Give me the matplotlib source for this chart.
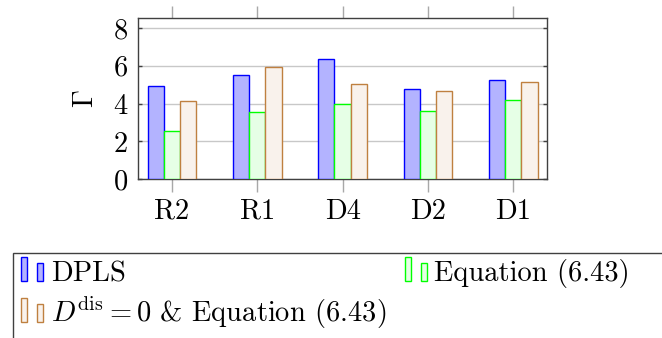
import numpy as np
import matplotlib
matplotlib.use('Agg')
from matplotlib import pyplot as plt
from matplotlib.patches import Rectangle
from matplotlib.legend_handler import HandlerBase

plt.rcParams['font.family'] = ['cmr10']
plt.rcParams['mathtext.fontset'] = 'cm'
plt.rcParams['axes.formatter.use_mathtext'] = True

categories = ['R2', 'R1', 'D4', 'D2', 'D1']
dpls = [4.93, 5.51, 6.37, 4.77, 5.25]
equation = [2.55, 3.55, 3.97, 3.60, 4.17]
ddis_zero = [4.13, 5.92, 5.04, 4.68, 5.14]
labels = ['DPLS', 'Equation (6.43)', r'$D^{\mathrm{dis}} = 0$ & Equation (6.43)']

series = [dpls, equation, ddis_zero]
faces = ['#b3b3ff', '#e6ffe6', '#f9f2ec']
edges = ['#0000ff', '#00ff00', '#bf8040']


# pgfplots style legend: two small bars per entry
class TwoBars(HandlerBase):
    def create_artists(self, legend, orig_handle, xdescent, ydescent,
                       width, height, fontsize, trans):
        fc = orig_handle.get_facecolor()
        ec = orig_handle.get_edgecolor()
        x0, y0 = -xdescent, -ydescent
        r1 = Rectangle((x0, y0), width * 0.26, height * 1.2, fc=fc, ec=ec, lw=1, transform=trans)
        r2 = Rectangle((x0 + width * 0.71, y0), width * 0.29, height * 0.9, fc=fc, ec=ec, lw=1, transform=trans)
        return [r1, r2]


fig = plt.figure(figsize=(6.62, 3.38), dpi=100)
ax = fig.add_axes([0.208, 0.470, 0.619, 0.477])

x = np.arange(len(categories))
w = 0.19
handles = []
for i in range(3):
    b = ax.bar(x + (i - 1) * w, series[i], w, color=faces[i], edgecolor=edges[i], linewidth=1, zorder=3)
    handles.append(b[0])

ax.set_xlim(-0.4, 4.4)
ax.set_ylim(0, 8.53)
ax.set_xticks(x)
ax.set_xticklabels(categories)
ax.set_yticks([0, 2, 4, 6, 8])
ax.yaxis.grid(True, color='#c8c8c8', linewidth=1, zorder=0)
ax.set_ylabel(r'$\Gamma$', fontsize=20.5, labelpad=10)

ax.tick_params(axis='x', direction='out', top=True, length=9, width=1, color='#a8a8a8', labelsize=20.5, pad=5)
ax.tick_params(axis='y', direction='in', right=True, length=3, width=1, color='#404040', labelsize=20.5, pad=7)
for s in ax.spines.values():
    s.set_color('#404040')
    s.set_linewidth(1)

# legend frame goes past the right edge
fig.patches.append(Rectangle((13 / 662, -0.1), 1.0, (338 - 253) / 338 + 0.1,
                             transform=fig.transFigure, fill=False, ec='#404040', lw=1))
# reorder so entries fill row by row like pgfplots
order = [0, 2, 1]
fig.legend([handles[i] for i in order], [labels[i] for i in order],
           handler_map={h: TwoBars() for h in handles},
           loc='upper left', bbox_to_anchor=(21 / 662, (338 - 259) / 338), ncol=2,
           frameon=False, fontsize=20.5, handlelength=0.78, handletextpad=0.26,
           columnspacing=0.66, borderaxespad=0, borderpad=0.0, labelspacing=0.25)

plt.savefig('out.png', dpi=100)
